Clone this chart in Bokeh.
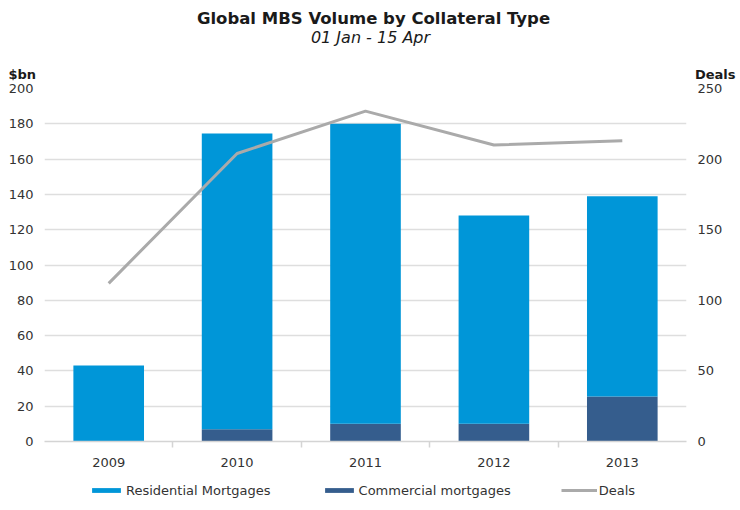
from bokeh.plotting import figure
from bokeh.layouts import column
from bokeh.models import (Range1d, LinearAxis, FixedTicker, Label, Legend,
                          LegendItem, ColumnDataSource)
from bokeh.embed import file_html
from bokeh.resources import INLINE

# ---- data ----
years = [2009, 2010, 2011, 2012, 2013]
year_labels = ["2009", "2010", "2011", "2012", "2013"]
residential = [43, 167.5, 170, 118, 113.5]
commercial = [0, 7, 10, 10, 25.5]
deals = [112, 204, 234, 210, 213]
left_ticks = [0, 20, 40, 60, 80, 100, 120, 140, 160, 180, 200]
right_ticks = [0, 50, 100, 150, 200, 250]

title_text = "Global MBS Volume by Collateral Type"
subtitle_text = "01 Jan - 15 Apr"
left_axis_title = "$bn"
right_axis_title = "Deals"
series_names = ["Residential Mortgages", "Commercial mortgages", "Deals"]

RES_COLOR = "#0096d8"
COM_COLOR = "#355d8d"
DEAL_COLOR = "#aaaaaa"
FONT = "DejaVu Sans"
TXT = "#333333"
HEAD = "#1a1a1a"

W = 740
HEADER_H = 82
MAIN_H = 396
FOOT_H = 510 - HEADER_H - MAIN_H


def blank_fig(h):
    f = figure(width=W, height=h, output_backend="svg",
               toolbar_location=None, x_range=Range1d(0, W),
               y_range=Range1d(h, 0), x_axis_location=None,
               y_axis_location=None, min_border=0, frame_align=False)
    f.outline_line_color = None
    f.grid.visible = False
    return f


# ---- header figure (titles) ----
head = blank_fig(HEADER_H)


def add_label(fig, text, cx, cy, align="center", style="normal",
              size="13px", color=HEAD):
    fig.add_layout(Label(x=cx, y=cy, text=text, text_align=align,
                         text_baseline="middle", text_font=FONT,
                         text_font_style=style, text_font_size=size,
                         text_color=color))


add_label(head, title_text, 373, 18, style="bold", size="16.5px")
add_label(head, subtitle_text, 370, 37, style="italic", size="16px")
add_label(head, left_axis_title, 8, 74, align="left", style="bold")
add_label(head, right_axis_title, 735, 74, align="right", style="bold")

# ---- main chart ----
src = ColumnDataSource(dict(x=years, residential=residential,
                            commercial=commercial, deals=deals))

p = figure(width=W, height=MAIN_H, output_backend="svg",
           toolbar_location=None, frame_align=False,
           x_range=Range1d(2008.5, 2013.5), y_range=Range1d(0, 200),
           min_border_left=44, min_border_right=54,
           min_border_top=88 - HEADER_H,
           min_border_bottom=(HEADER_H + MAIN_H) - 441)
p.outline_line_color = None
p.extra_y_ranges = {"deals": Range1d(0, 250)}

bars = p.vbar_stack(["commercial", "residential"], x="x", width=0.55,
                    color=[COM_COLOR, RES_COLOR], line_color=None, source=src)
line = p.line("x", "deals", source=src, y_range_name="deals",
              line_color=DEAL_COLOR, line_width=3)

p.xaxis.ticker = FixedTicker(ticks=years,
                             minor_ticks=[y + 0.5 for y in years[:-1]])
p.xaxis.major_label_overrides = {y: l for y, l in zip(years, year_labels)}
p.xaxis.axis_line_color = "#d4d4d4"
p.xaxis.axis_line_width = 1.5
p.xaxis.major_tick_line_color = None
p.xaxis.major_tick_out = 6
p.xaxis.minor_tick_line_color = "#d4d4d4"
p.xaxis.minor_tick_line_width = 1.5
p.xaxis.minor_tick_in = 0
p.xaxis.minor_tick_out = 6
p.xaxis.major_label_standoff = 10
p.xaxis.major_label_text_font = FONT
p.xaxis.major_label_text_font_size = "13px"
p.xaxis.major_label_text_color = TXT

p.yaxis.ticker = FixedTicker(ticks=left_ticks)
p.yaxis.axis_line_color = None
p.yaxis.major_tick_line_color = None
p.yaxis.minor_tick_line_color = None
p.yaxis.major_tick_out = 0
p.yaxis.major_label_standoff = 11
p.yaxis.major_label_text_font = FONT
p.yaxis.major_label_text_font_size = "13px"
p.yaxis.major_label_text_color = TXT

raxis = LinearAxis(y_range_name="deals", ticker=FixedTicker(ticks=right_ticks))
raxis.axis_line_color = None
raxis.major_tick_line_color = None
raxis.minor_tick_line_color = None
raxis.major_tick_out = 0
raxis.major_label_standoff = 11
raxis.major_label_text_font = FONT
raxis.major_label_text_font_size = "13px"
raxis.major_label_text_color = TXT
p.add_layout(raxis, "right")

p.xgrid.grid_line_color = None
p.ygrid.grid_line_color = "#dedede"
p.ygrid.grid_line_width = 1.5

# ---- footer with legend (swatch renderers share the series' styles;
#      their data lie outside this strip's ranges, so only the legend shows) ----
foot = blank_fig(FOOT_H)
sw_res = foot.vbar(x="x", top="residential", width=0.55, color=RES_COLOR,
                   line_color=None, source=src)
sw_com = foot.vbar(x="x", top="commercial", width=0.55, color=COM_COLOR,
                   line_color=None, source=src)
sw_deal = foot.line(x="x", y="deals", line_color=DEAL_COLOR, line_width=3,
                    source=src)

legend = Legend(items=[LegendItem(label=series_names[0], renderers=[sw_res]),
                       LegendItem(label=series_names[1], renderers=[sw_com]),
                       LegendItem(label=series_names[2], renderers=[sw_deal])],
                orientation="horizontal",
                location=(88, FOOT_H - ((490 - HEADER_H - MAIN_H) + 9)),
                glyph_width=36, glyph_height=6, label_standoff=2,
                spacing=50, padding=0, margin=0,
                border_line_color=None, background_fill_alpha=0,
                label_text_font=FONT, label_text_font_size="13px",
                label_text_color=TXT, label_height=18)
foot.add_layout(legend, "center")

layout = column(head, p, foot, spacing=0)
open("out.html", "w").write(file_html(layout, INLINE))
